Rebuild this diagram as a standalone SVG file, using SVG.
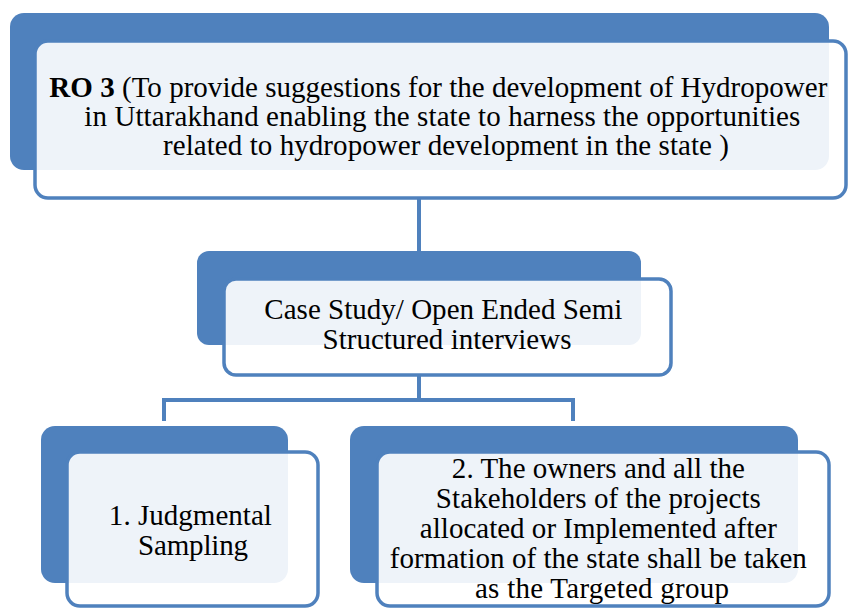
<svg xmlns="http://www.w3.org/2000/svg" width="850" height="609" viewBox="0 0 850 609">
  <style>
    .back { fill: #4F81BD; }
    .front { fill: #FFFFFF; fill-opacity: 0.9; stroke: #4F81BD; stroke-width: 3.5; }
    .wire { fill: none; stroke: #4F81BD; stroke-width: 4; stroke-linejoin: miter; }
    .label { font-family: "Liberation Serif", "Times New Roman", serif; font-size: 29px; fill: #000000; text-anchor: middle; }
    .bold { font-weight: bold; }
  </style>
  <rect width="850" height="609" fill="#FFFFFF"/>

  <!-- tree lines: top box to middle box, middle box to the two lower boxes -->
  <g id="connectors">
    <path class="wire" d="M419 199 V251"/>
    <path class="wire" d="M419 376 V400"/>
    <path class="wire" d="M164 421 V400 H573 V421"/>
  </g>

  <!-- each node: solid blue card behind, translucent white card in front -->
  <g id="ro3">
    <rect class="back" x="10" y="13" width="819" height="157" rx="14"/>
    <rect class="front" x="35" y="41" width="811" height="157" rx="13"/>
    <text class="label">
      <tspan x="442" y="97" textLength="778" lengthAdjust="spacing"><tspan class="bold">RO 3</tspan> (To provide suggestions for the development of Hydropower</tspan>
      <tspan x="446" y="126" textLength="716" lengthAdjust="spacing">in Uttarakhand enabling the state to harness the opportunities</tspan>
      <tspan x="446" y="155" textLength="566" lengthAdjust="spacing">related to hydropower development in the state )</tspan>
    </text>
  </g>

  <g id="case-study">
    <rect class="back" x="197" y="251" width="444" height="94" rx="12"/>
    <rect class="front" x="224" y="279" width="447" height="96" rx="12"/>
    <text class="label">
      <tspan x="447" y="319" textLength="358" lengthAdjust="spacing">Case Study/ Open Ended Semi</tspan>
      <tspan x="447" y="349" textLength="249" lengthAdjust="spacing">Structured interviews</tspan>
    </text>
  </g>

  <g id="judgmental-sampling">
    <rect class="back" x="41" y="426" width="247" height="157" rx="14"/>
    <rect class="front" x="67" y="452" width="251" height="154" rx="13"/>
    <text class="label">
      <tspan x="194" y="525" textLength="163" lengthAdjust="spacing">1. Judgmental</tspan>
      <tspan x="193" y="555" textLength="110" lengthAdjust="spacing">Sampling</tspan>
    </text>
  </g>

  <g id="targeted-group">
    <rect class="back" x="350" y="426" width="448" height="157" rx="14"/>
    <rect class="front" x="377" y="452" width="452" height="154" rx="13"/>
    <text class="label">
      <tspan x="602" y="478" textLength="293" lengthAdjust="spacing">2. The owners and all the</tspan>
      <tspan x="602" y="508" textLength="325" lengthAdjust="spacing">Stakeholders of the projects</tspan>
      <tspan x="602" y="538" textLength="357" lengthAdjust="spacing">allocated or Implemented after</tspan>
      <tspan x="602" y="568" textLength="417" lengthAdjust="spacing">formation of the state shall be taken</tspan>
      <tspan x="602" y="598" textLength="254" lengthAdjust="spacing">as the Targeted group</tspan>
    </text>
  </g>
</svg>
